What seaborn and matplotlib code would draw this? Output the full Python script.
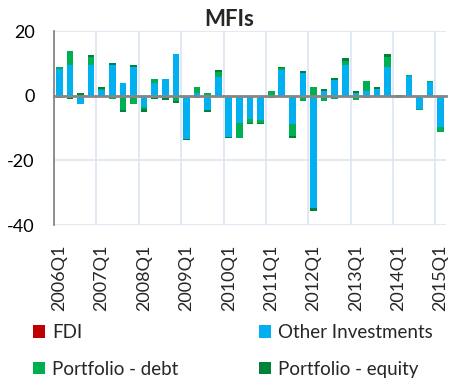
import numpy as np
import pandas as pd
import matplotlib
matplotlib.use("Agg")
import matplotlib.pyplot as plt
from matplotlib.patches import Patch
import seaborn as sns

# Quarterly flows, 2006Q1 - 2015Q1
quarters = [f"{y}Q{q}" for y in range(2006, 2016) for q in range(1, 5)][:37]

fdi = [0.0] * 37
other_inv = [8.3, 9.6, -2.7, 9.6, 1.6, 9.6, 3.9, 8.9, -3.5, 4.0, 5.1, 13.0,
             -13.3, 0.9, -4.5, 5.8, -12.7, -8.3, -7.1, -7.6, 0.0, 7.8, -8.8, 7.1,
             -34.7, 1.4, 5.0, 9.6, 0.8, 1.5, 2.1, 8.9, -0.8, 6.1, -4.0, 4.2, -9.6]
port_debt = [0.5, 4.1, 0.0, 2.3, 0.5, -0.9, -4.5, -2.7, -0.7, 1.1, 0.0, -1.8,
             0.0, 1.7, 0.8, 1.5, 0.0, -4.8, -1.2, -0.7, 1.4, 0.8, -3.6, -1.6,
             2.7, -1.6, -0.9, 1.2, -1.2, 3.0, 0.0, 3.1, 0.2, 0.4, -0.5, 0.3, -1.5]
port_equity = [-0.8, -0.9, 0.8, 0.6, 0.5, 0.4, -0.7, 0.6, -1.0, -0.9, -1.4, -0.4,
               -0.4, -0.8, -0.5, 0.5, -0.5, 0.0, -0.5, -0.5, -0.7, 0.3, -0.8, 0.5,
               -1.1, 0.7, 0.5, 1.0, 0.5, -0.8, 0.6, 1.0, 0.0, 0.0, 0.0, 0.0, 0.0]

series_names = ["FDI", "Other Investments", "Portfolio - debt", "Portfolio - equity"]
series_colors = ["#c00000", "#00b0f0", "#00b050", "#00823b"]
yticks = [-40, -20, 0, 20]
year_labels = [q for q in quarters if q.endswith("Q1")]

df = pd.DataFrame({"quarter": quarters, "FDI": fdi, "Other Investments": other_inv,
                   "Portfolio - debt": port_debt, "Portfolio - equity": port_equity})

sns.set_style("white")
plt.rcParams["font.family"] = ["Lato", "DejaVu Sans"]

GRAY = "#868686"
GRID = "#dce6f2"

fig = plt.figure(figsize=(4.5, 3.85), dpi=100)
ax = fig.add_axes([54 / 450, 1 - 225 / 385, (446 - 54) / 450, (225 - 31) / 385])

# stacked bars: positives stack upward, negatives downward
pos_base = np.zeros(len(df))
neg_base = np.zeros(len(df))
for name, color in zip(series_names, series_colors):
    vals = df[name].to_numpy(dtype=float)
    base = np.where(vals >= 0, pos_base, neg_base)
    sns.barplot(data=df, x="quarter", y=name, order=quarters, color=color,
                width=0.63, bottom=base, linewidth=0, errorbar=None,
                saturation=1, ax=ax)
    pos_base += np.clip(vals, 0, None)
    neg_base += np.clip(vals, None, 0)

n = len(quarters)
ax.set_xlim(-0.5, n - 0.5)
ax.set_ylim(-40, 20)
ax.set_yticks(yticks)
ax.set_yticklabels([str(t) for t in yticks], fontsize=13)
ax.set_xlabel("")
ax.set_ylabel("")

# year boundaries: ticks on the zero line and vertical gridlines
year_idx = [i for i, q in enumerate(quarters) if q.endswith("Q1")]
boundaries = [i - 0.5 for i in year_idx]
ax.set_xticks(boundaries)
ax.set_xticklabels([""] * len(boundaries))
ax.spines["bottom"].set_position(("data", 0))
ax.spines["bottom"].set_color(GRAY)
ax.spines["bottom"].set_linewidth(2)
ax.spines["left"].set_color(GRAY)
ax.spines["left"].set_linewidth(1.3)
ax.spines["top"].set_visible(False)
ax.spines["right"].set_visible(False)
ax.tick_params(axis="x", length=8, width=1.5, color=GRAY, direction="out")
ax.tick_params(axis="y", length=6, width=1.3, color=GRAY, direction="out",
               pad=8, labelcolor="black")
ax.grid(True, color=GRID, linewidth=1.2)
ax.set_axisbelow(True)

# year labels along the bottom
sec = ax.secondary_xaxis("bottom")
sec.set_xticks(year_idx)
sec.set_xticklabels(year_labels, rotation=90, fontsize=13)
sec.tick_params(length=0, pad=14)
sec.spines["bottom"].set_visible(False)

fig.text(0.51, 1 - 19 / 385, "MFIs", ha="center", va="center",
         fontsize=16, fontweight="bold")

handles = [Patch(facecolor=c, edgecolor="none") for c in series_colors]
leg_kw = dict(frameon=False, fontsize=13.5, handlelength=0.62, handleheight=0.62,
              handletextpad=0.4, labelspacing=1.05, borderpad=0, borderaxespad=0,
              loc="center left")
fig.legend([handles[0], handles[2]], [series_names[0], series_names[2]],
           bbox_to_anchor=(33 / 450, 1 - 351 / 385), **leg_kw)
fig.legend([handles[1], handles[3]], [series_names[1], series_names[3]],
           bbox_to_anchor=(259 / 450, 1 - 351 / 385), **leg_kw)

fig.savefig("out.png", dpi=100)
